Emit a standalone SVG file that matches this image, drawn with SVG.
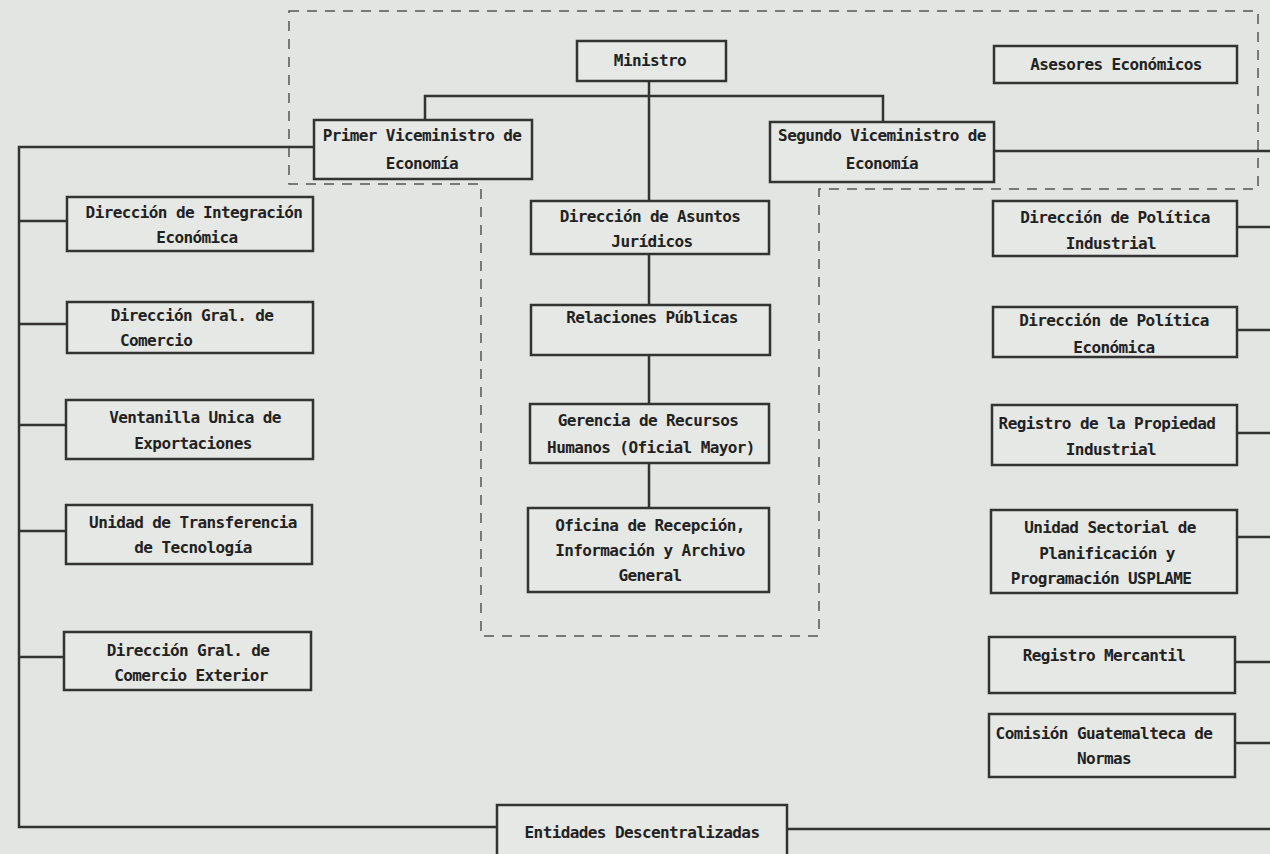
<svg xmlns="http://www.w3.org/2000/svg" width="1270" height="854" viewBox="0 0 1270 854">
<style>
.bg{fill:#e3e5e2}
.box{fill:#e6e8e5;stroke:#333;stroke-width:2.5}
.ln{fill:none;stroke:#333;stroke-width:2.5}
.dash{fill:none;stroke:#555;stroke-width:1.5;stroke-dasharray:10 8}
text{font-family:"DejaVu Sans Mono","Liberation Mono",monospace;font-weight:bold;font-size:16px;letter-spacing:-0.6px;fill:#222;text-anchor:middle}
</style>
<rect class="bg" x="0" y="0" width="1270" height="854"/>
<path class="dash" d="M289 11 H1258 V189 H819 V636 H481 V184 H289 Z"/>
<g id="connectors">
<path class="ln" d="M649 81 V201"/>
<path class="ln" d="M425 120 V96 H883 V122"/>
<path class="ln" d="M314 147 H19 V827 H497"/>
<path class="ln" d="M19 221 H67 M19 324 H67 M19 425 H67 M19 531 H66 M19 657 H64"/>
<path class="ln" d="M649 254 V305 M649 355 V404 M649 463 V508"/>
<path class="ln" d="M994 151 H1270"/>
<path class="ln" d="M1237 227 H1270 M1237 330 H1270 M1237 433 H1270 M1237 537 H1270 M1235 662 H1270 M1235 743 H1270"/>
<path class="ln" d="M787 829 H1270"/>
</g>
<g id="ministro"><rect class="box" x="577" y="41" width="149" height="40"/><text x="650" y="66">Ministro</text></g>
<g id="asesores"><rect class="box" x="994" y="46" width="243" height="37"/><text x="1116" y="70">Asesores Económicos</text></g>
<g id="primer"><rect class="box" x="314" y="120" width="218" height="59"/><text x="422" y="141">Primer Viceministro de</text><text x="422" y="169">Economía</text></g>
<g id="segundo"><rect class="box" x="770" y="122" width="224" height="60"/><text x="882" y="141">Segundo Viceministro de</text><text x="882" y="169">Economía</text></g>
<g id="integracion"><rect class="box" x="67" y="197" width="246" height="54"/><text x="194" y="218">Dirección de Integración</text><text x="197" y="243">Económica</text></g>
<g id="comercio"><rect class="box" x="67" y="302" width="246" height="51"/><text x="192" y="321">Dirección Gral. de</text><text x="120" y="346" style="text-anchor:start">Comercio</text></g>
<g id="ventanilla"><rect class="box" x="66" y="400" width="247" height="59"/><text x="195" y="423">Ventanilla Unica de</text><text x="193" y="449">Exportaciones</text></g>
<g id="transferencia"><rect class="box" x="66" y="505" width="246" height="59"/><text x="193" y="528">Unidad de Transferencia</text><text x="193" y="553">de Tecnología</text></g>
<g id="exterior"><rect class="box" x="64" y="632" width="247" height="58"/><text x="188" y="656">Dirección Gral. de</text><text x="191" y="681">Comercio Exterior</text></g>
<g id="juridicos"><rect class="box" x="531" y="201" width="238" height="53"/><text x="650" y="222">Dirección de Asuntos</text><text x="652" y="247">Jurídicos</text></g>
<g id="relaciones"><rect class="box" x="531" y="305" width="239" height="50"/><text x="652" y="323">Relaciones Públicas</text></g>
<g id="gerencia"><rect class="box" x="530" y="404" width="239" height="59"/><text x="648" y="426">Gerencia de Recursos</text><text x="651" y="453">Humanos (Oficial Mayor)</text></g>
<g id="oficina"><rect class="box" x="528" y="508" width="241" height="84"/><text x="650" y="531">Oficina de Recepción,</text><text x="650" y="556">Información y Archivo</text><text x="650" y="581">General</text></g>
<g id="pol-industrial"><rect class="box" x="993" y="201" width="244" height="55"/><text x="1115" y="223">Dirección de Política</text><text x="1111" y="249">Industrial</text></g>
<g id="pol-economica"><rect class="box" x="993" y="307" width="244" height="50"/><text x="1114" y="326">Dirección de Política</text><text x="1114" y="353">Económica</text></g>
<g id="propiedad"><rect class="box" x="992" y="405" width="245" height="60"/><text x="1107" y="429">Registro de la Propiedad</text><text x="1111" y="455">Industrial</text></g>
<g id="usplame"><rect class="box" x="991" y="510" width="246" height="83"/><text x="1110" y="533">Unidad Sectorial de</text><text x="1107" y="559">Planificación y</text><text x="1101" y="584">Programación USPLAME</text></g>
<g id="mercantil"><rect class="box" x="989" y="637" width="246" height="56"/><text x="1104" y="661">Registro Mercantil</text></g>
<g id="normas"><rect class="box" x="989" y="714" width="246" height="63"/><text x="1104" y="739">Comisión Guatemalteca de</text><text x="1104" y="764">Normas</text></g>
<g id="entidades"><rect class="box" x="497" y="805" width="290" height="60"/><text x="642" y="838">Entidades Descentralizadas</text></g>
</svg>
